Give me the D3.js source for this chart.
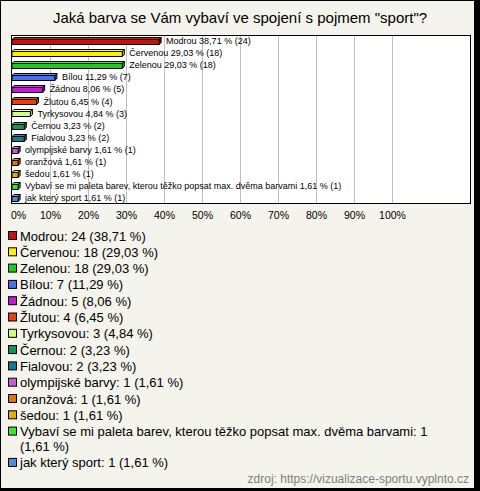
<!DOCTYPE html>
<html><head><meta charset="utf-8">
<script src="https://cdn.jsdelivr.net/npm/d3@7"></script>
<style>html,body{margin:0;padding:0;background:#000;}svg{display:block;}</style>
</head><body>
<script>
const title = 'Jaká barva se Vám vybaví ve spojení s pojmem "sport"?';
const categories = ["Modrou","Červenou","Zelenou","Bílou","Žádnou","Žlutou","Tyrkysovou","Černou","Fialovou","olympijské barvy","oranžová","šedou","Vybaví se mi paleta barev, kterou těžko popsat max. dvěma barvami","jak který sport"];
const counts = [24,18,18,7,5,4,3,2,2,1,1,1,1,1];
const percents = [38.71,29.03,29.03,11.29,8.06,6.45,4.84,3.23,3.23,1.61,1.61,1.61,1.61,1.61];
const colors = ["#c0140c","#ffee00","#22c822","#4870e8","#c41cd4","#e8400c","#ccff88","#18945a","#1c7890","#c060c8","#e07408","#e0b000","#44e030","#5c88dc"];
const tickValues = [0,10,20,30,40,50,60,70,80,90,100];
const tickLabels = ["0%","10%","20%","30%","40%","50%","60%","70%","80%","90%","100%"];
const source = "zdroj: https://vizualizace-sportu.vyplnto.cz";

const W = 480, H = 491;
const fmt = v => d3.format(".2f")(v).replace(".", ",");
const svg = d3.select("body").append("svg").attr("width", W).attr("height", H)
  .style("font-family", "'Liberation Sans', Arial, sans-serif");

svg.append("rect").attr("x",0).attr("y",0).attr("width",W).attr("height",H).attr("fill","#000");
svg.append("rect").attr("x",1).attr("y",1).attr("width",473).attr("height",487).attr("fill","#f4f3ec");

svg.append("text").attr("x",240).attr("y",23).attr("text-anchor","middle")
  .attr("font-size",15).attr("fill","#000").text(title);

const plot = {x0: 11, x1: 471, y0: 35, y1: 204};
const x = d3.scaleLinear().domain([0,100]).range([12, 392]);
const y = d3.scaleBand().domain(categories).range([plot.y0, plot.y1]).padding(0);

svg.append("rect").attr("x",plot.x0+0.5).attr("y",plot.y0+0.5)
  .attr("width",plot.x1-plot.x0-1).attr("height",plot.y1-plot.y0-1).attr("fill","#fff");

// gridlines
svg.append("g").selectAll("line").data(tickValues.slice(1)).join("line")
  .attr("x1", d => Math.round(x(d))+0.5).attr("x2", d => Math.round(x(d))+0.5)
  .attr("y1", plot.y0).attr("y2", plot.y1).attr("stroke","#c0c0c0").attr("stroke-width",1);

svg.append("rect").attr("x",plot.x0+0.5).attr("y",plot.y0+0.5)
  .attr("width",plot.x1-plot.x0-1).attr("height",plot.y1-plot.y0-1)
  .attr("fill","none").attr("stroke","#000");

// axis labels
const axis = d3.axisBottom(x).tickValues(tickValues).tickFormat((d,i)=>tickLabels[i]).tickSize(0).tickPadding(0);
const ag = svg.append("g").attr("transform",`translate(0,${plot.y1+8})`).call(axis);
ag.select(".domain").remove();
ag.selectAll("text").attr("font-size",10.5).attr("fill","#000")
  .attr("font-family","'Liberation Sans', Arial, sans-serif")
  .attr("dx", (d,i) => i===0 ? 6 : 0);

// bars
const d = 2;
const bars = svg.append("g");
categories.forEach((c,i) => {
  const yc = y(c) + y.bandwidth()/2;
  const xa = x(0), xb = x(percents[i]);
  const top = Math.round(yc) - 2 + 0.5, bot = Math.round(yc) + 3 + 0.5;
  const col = d3.color(colors[i]);
  const g = bars.append("g").attr("stroke","#000").attr("stroke-width",1).attr("stroke-linejoin","round");
  g.append("polygon").attr("points",[[xa,top],[xa+d,top-d],[xb+d,top-d],[xb,top]].join(" "))
    .attr("fill", col.brighter(0.6));
  g.append("polygon").attr("points",[[xb,top],[xb+d,top-d],[xb+d,bot-d],[xb,bot]].join(" "))
    .attr("fill", col.darker(0.6));
  g.append("rect").attr("x",xa).attr("y",top).attr("width",xb-xa).attr("height",bot-top)
    .attr("fill", colors[i]);
  svg.append("text").attr("x", xb + d + 5).attr("y", yc).attr("dy","0.35em")
    .attr("font-size",9).attr("fill","#000")
    .text(`${c} ${fmt(percents[i])} % (${counts[i]})`);
});

// legend
const lg = svg.append("g");
let ly = 236;
const maxW = 425;
categories.forEach((c,i) => {
  lg.append("rect").attr("x",8.5).attr("y",ly-4.5).attr("width",8).attr("height",8)
    .attr("fill",colors[i]).attr("stroke","#000");
  const full = `${c}: ${counts[i]} (${fmt(percents[i])} %)`;
  const words = full.split(" ");
  let line = [], lines = [];
  const t = lg.append("text").attr("x",20).attr("y",ly).attr("dy","0.35em").attr("font-size",13).attr("fill","#000");
  words.forEach(w => {
    line.push(w);
    t.text(line.join(" "));
    if (t.node().getComputedTextLength() > maxW && line.length > 1) {
      line.pop(); lines.push(line.join(" ")); line = [w];
    }
  });
  lines.push(line.join(" "));
  t.text(lines[0]);
  for (let k = 1; k < lines.length; k++) {
    ly += 15;
    lg.append("text").attr("x",20).attr("y",ly).attr("dy","0.35em").attr("font-size",13).attr("fill","#000").text(lines[k]);
  }
  ly += 16.3;
});

svg.append("text").attr("x",469).attr("y",483).attr("text-anchor","end")
  .attr("font-size",12).attr("fill","#808080").text(source);
</script>
</body></html>
